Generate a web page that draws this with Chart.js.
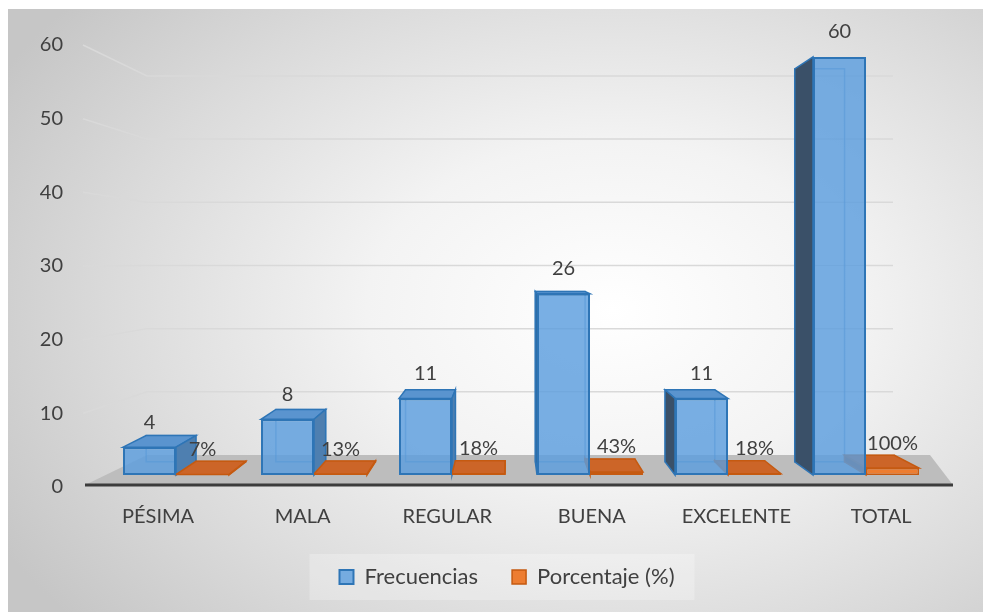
<!DOCTYPE html>
<html>
<head>
<meta charset="utf-8">
<script src="https://cdn.jsdelivr.net/npm/chart.js@4.4.1/dist/chart.umd.min.js"></script>
<style>
  html, body { margin: 0; padding: 0; background: #fff; }
  #wrap { position: relative; width: 983px; height: 612px; }
  #bg {
    position: absolute; left: 8px; top: 9px; right: 0; bottom: 0;
    background: radial-gradient(ellipse 72% 80% at 62% 50%, #ffffff 0%, #f3f3f3 35%, #dadada 72%, #c6c6c6 100%);
  }
  canvas { position: absolute; left: 0; top: 0; }
</style>
</head>
<body>
<div id="wrap">
  <div id="bg"></div>
  <canvas id="chart" width="983" height="612"></canvas>
</div>
<script>
// Chart data
const categories = ['PÉSIMA', 'MALA', 'REGULAR', 'BUENA', 'EXCELENTE', 'TOTAL'];
const frecuencias = [4, 8, 11, 26, 11, 60];
const porcentaje = [0.07, 0.13, 0.18, 0.43, 0.18, 1.00];
const yTicks = [0, 10, 20, 30, 40, 50, 60];

const FONT = 'Lato, "Open Sans", sans-serif';
const TEXT = '#404040';

// face colours for the fake 3D boxes, one per dataset
const faceStyles = [
  { top: '#5a94cf', right: '#4e7fb0', left: '#3a5068', edge: '#2e75b6', back: 'rgba(46,117,182,0.5)' },
  { top: '#cc6528', right: '#a84f16', left: '#a84f16', edge: '#c55a11', back: 'rgba(197,90,17,0.5)' }
];

function poly(ctx, pts, fill, stroke) {
  ctx.beginPath();
  ctx.moveTo(pts[0][0], pts[0][1]);
  for (let i = 1; i < pts.length; i++) ctx.lineTo(pts[i][0], pts[i][1]);
  ctx.closePath();
  if (fill) { ctx.fillStyle = fill; ctx.fill(); }
  if (stroke) { ctx.strokeStyle = stroke; ctx.lineWidth = 1.5; ctx.stroke(); }
}

const depthLook = {
  id: 'depthLook',
  afterLayout(chart) {
    // legend sits a little left of the plot centre in the original
    const lg = chart.legend;
    if (lg) { lg.left -= 14; lg.right -= 14; }
  },
  beforeDraw(chart) {
    // faint lighter panel behind the legend
    const lg = chart.legend;
    if (!lg || !lg.legendHitBoxes || !lg.legendHitBoxes.length) return;
    const hb = lg.legendHitBoxes;
    const l = hb[0].left - 30, r = hb[hb.length - 1].left + hb[hb.length - 1].width + 20;
    const cy = hb[0].top + hb[0].height / 2;
    const ctx = chart.ctx;
    ctx.save();
    ctx.fillStyle = 'rgba(255,255,255,0.25)';
    ctx.fillRect(l, cy - 23, r - l, 46);
    ctx.restore();
  },
  beforeDatasetsDraw(chart) {
    const { ctx, chartArea: a, scales } = chart;
    const yl = scales.yl, yw = scales.yw;
    const vp = { x: a.left + a.width * 0.485, y: a.top + a.height * 0.475 };
    const k = 0.94;
    const proj = (px, py) => [vp.x + (px - vp.x) * k, vp.y + (py - vp.y) * k];

    ctx.save();
    // back wall gridlines, bent towards the front tick labels
    ctx.strokeStyle = '#d9d9d9';
    ctx.lineWidth = 1.5;
    yTicks.forEach(v => {
      if (v === 0) return;
      ctx.beginPath();
      ctx.moveTo(a.left - 24, yl.getPixelForValue(v));
      ctx.lineTo(a.left + 40, yw.getPixelForValue(v));
      ctx.lineTo(a.right - 42, yw.getPixelForValue(v));
      ctx.stroke();
    });

    // floor
    const fy = yl.getPixelForValue(0) - 2;
    const by = yw.getPixelForValue(0);
    poly(ctx, [[a.left - 22, fy], [a.right + 18, fy], [a.right - 5, by], [a.left + 40, by]], '#bdbdbd');
    ctx.strokeStyle = '#3c3c3c';
    ctx.lineWidth = 3;
    ctx.beginPath();
    ctx.moveTo(a.left - 22, fy);
    ctx.lineTo(a.right + 18, fy);
    ctx.stroke();

    // box sides and tops
    chart.data.datasets.forEach((ds, di) => {
      const st = faceStyles[di];
      chart.getDatasetMeta(di).data.forEach(bar => {
        const { x, y, base, width } = bar.getProps(['x', 'y', 'base', 'width'], true);
        const x1 = x - width / 2, x2 = x + width / 2;
        const yt = Math.min(y, base), yb = base;
        const A = [x1, yt], B = [x2, yt], C = [x2, yb], D = [x1, yb];
        const a2 = proj(x1, yt), b2 = proj(x2, yt), c2 = proj(x2, yb), d2 = proj(x1, yb);
        poly(ctx, [a2, b2, c2, d2], null, st.back);
        if (a2[1] < yt) poly(ctx, [A, B, b2, a2], st.top, st.edge);
        if (x2 < vp.x) poly(ctx, [B, C, c2, b2], st.right, st.edge);
        if (x1 > vp.x) poly(ctx, [A, D, d2, a2], st.left, st.edge);
      });
    });
    ctx.restore();
  },
  afterDatasetsDraw(chart) {
    const ctx = chart.ctx;
    ctx.save();
    ctx.font = '20px ' + FONT;
    ctx.fillStyle = TEXT;
    ctx.textAlign = 'center';
    ctx.textBaseline = 'middle';
    chart.data.datasets.forEach((ds, di) => {
      chart.getDatasetMeta(di).data.forEach((bar, i) => {
        const v = ds.data[i];
        const txt = di === 0 ? String(v) : Math.round(v * 100) + '%';
        ctx.fillText(txt, bar.x, Math.min(bar.y, bar.base) - 25);
      });
    });
    ctx.restore();
  }
};

new Chart(document.getElementById('chart'), {
  type: 'bar',
  data: {
    labels: categories,
    datasets: [
      {
        label: 'Frecuencias',
        data: frecuencias,
        backgroundColor: 'rgba(92,157,222,0.82)',
        borderColor: '#2e75b6',
        borderWidth: 2,
        borderSkipped: false,
        yAxisID: 'y'
      },
      {
        label: 'Porcentaje (%)',
        data: porcentaje,
        backgroundColor: '#ed7d31',
        borderColor: '#c55a11',
        borderWidth: 1.5,
        borderSkipped: false,
        yAxisID: 'y'
      }
    ]
  },
  options: {
    responsive: false,
    animation: false,
    categoryPercentage: 0.768,
    barPercentage: 1,
    layout: { padding: { left: 38, right: 48, top: 45, bottom: 14 } },
    plugins: {
      legend: {
        position: 'bottom',
        fullSize: false,
        labels: {
          boxWidth: 14,
          boxHeight: 14,
          padding: 34,
          color: TEXT,
          font: { family: FONT, size: 22 }
        }
      },
      tooltip: { enabled: false }
    },
    scales: {
      x: { display: false },
      // front-plane label axis, shifted like the perspective view
      xl: {
        type: 'linear',
        position: 'bottom',
        offset: false,
        min: -0.353,
        max: 5.373,
        grid: { display: false, drawTicks: false },
        border: { display: false },
        afterBuildTicks: s => { s.ticks = categories.map((c, i) => ({ value: i })); },
        afterFit: s => { s.height = 45; },
        ticks: {
          padding: 18,
          autoSkip: false,
          maxRotation: 0,
          color: TEXT,
          font: { family: FONT, size: 20 },
          callback: v => categories[v]
        }
      },
      y: { display: false, min: -1.72, max: 61.72 },
      yw: { display: false, min: -5.07, max: 64.9 },
      yl: {
        position: 'left',
        min: 0,
        max: 60,
        grid: { display: false, drawTicks: false },
        border: { display: false },
        afterFit: s => { s.width = 69; s.paddingTop = 0; s.paddingBottom = 0; },
        ticks: {
          stepSize: 10,
          padding: 44,
          color: TEXT,
          font: { family: FONT, size: 20 }
        }
      }
    }
  },
  plugins: [depthLook]
});
</script>
</body>
</html>
